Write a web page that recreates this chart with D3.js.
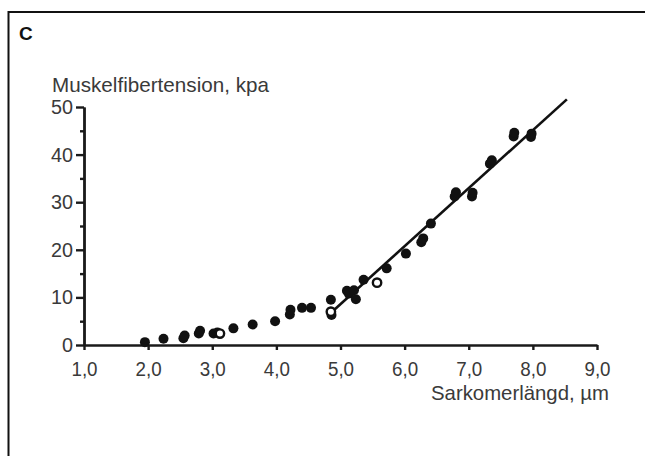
<!DOCTYPE html>
<html>
<head>
<meta charset="utf-8">
<script src="https://cdn.jsdelivr.net/npm/d3@7"></script>
<style>
    body { margin: 0; background: #fff; }
    svg { display: block; }
    .axis path, .axis line { stroke: #1a1a1a; stroke-width: 2.4; }
    .axis text { fill: #3a3a3a; font-family: 'Liberation Sans', Arial, sans-serif; font-size: 20px; }
    .title { fill: #3a3a3a; font-family: 'Liberation Sans', Arial, sans-serif; font-size: 21px; }
</style>
</head>
<body>
<script>
    // sarcomere length (um) and tension (kPa), filled symbols
    var filledX = [1.95, 2.24, 2.55, 2.57, 2.79, 2.81, 3.02, 3.08, 3.33, 3.63, 3.98,
        4.21, 4.22, 4.40, 4.54, 4.85, 4.86, 5.10, 5.13, 5.21, 5.24, 5.36, 5.72,
        6.02, 6.26, 6.29, 6.41, 6.78, 6.80, 7.05, 7.06, 7.33, 7.36, 7.70, 7.71, 7.97, 7.98];
    var filledY = [0.6, 1.3, 1.4, 2.0, 2.4, 3.0, 2.4, 2.6, 3.5, 4.3, 5.0,
        6.4, 7.4, 7.8, 7.8, 9.5, 6.3, 11.4, 10.8, 11.5, 9.6, 13.7, 16.1,
        19.2, 21.6, 22.4, 25.5, 31.2, 32.1, 31.2, 32.0, 38.1, 38.8, 43.8, 44.6, 43.7, 44.4];

    // open symbols
    var openX = [3.12, 4.85, 5.57];
    var openY = [2.4, 7.0, 13.1];

    // regression line end points
    var lineX = [4.83, 8.53];
    var lineY = [6.5, 51.6];

    var xTicks = [1, 2, 3, 4, 5, 6, 7, 8, 9];
    var yTicks = [0, 10, 20, 30, 40, 50];
    var yMinor = [5, 15, 25, 35, 45];

    var width = 645,
        height = 456;

    var svg = d3.select('body')
        .append('svg')
        .attr('width', width)
        .attr('height', height);

    // frame
    svg.append('rect')
        .attr('x', 8.5)
        .attr('y', 12)
        .attr('width', 700)
        .attr('height', 500)
        .attr('fill', 'none')
        .attr('stroke', '#111')
        .attr('stroke-width', 2);

    svg.append('text')
        .attr('x', 19)
        .attr('y', 40)
        .attr('font-family', 'Liberation Sans, Arial, sans-serif')
        .attr('font-weight', 'bold')
        .attr('font-size', 19)
        .attr('fill', '#111')
        .text('C');

    var x = d3.scaleLinear().domain([1, 9]).range([84, 597]);
    var y = d3.scaleLinear().domain([0, 50]).range([345, 107]);

    var fmt = function(d) { return d.toFixed(1).replace('.', ','); };

    // squeeze tick labels to the narrow typeface of the original
    function narrow(g, perChar) {
        g.selectAll('.tick text')
            .attr('textLength', function() { return this.textContent.length * perChar; })
            .attr('lengthAdjust', 'spacingAndGlyphs');
    }

    // minor y ticks
    svg.append('g')
        .attr('class', 'axis')
        .attr('transform', 'translate(84,0)')
        .call(d3.axisLeft(y).tickValues(yMinor).tickSize(4).tickSizeOuter(0).tickFormat(''));

    svg.append('g')
        .attr('class', 'axis')
        .attr('transform', 'translate(84,0)')
        .call(d3.axisLeft(y).tickValues(yTicks).tickSize(8).tickSizeOuter(0).tickPadding(3))
        .call(narrow, 11);

    svg.append('g')
        .attr('class', 'axis')
        .attr('transform', 'translate(0,345)')
        .call(d3.axisBottom(x).tickValues(xTicks).tickSize(5).tickSizeOuter(0).tickPadding(12).tickFormat(fmt))
        .call(narrow, 8.7);

    // axis titles
    svg.append('text')
        .attr('class', 'title')
        .attr('x', 52)
        .attr('y', 92)
        .attr('textLength', 217)
        .attr('lengthAdjust', 'spacingAndGlyphs')
        .text('Muskelfibertension, kpa');

    svg.append('text')
        .attr('class', 'title')
        .attr('x', 431)
        .attr('y', 400)
        .attr('textLength', 178)
        .attr('lengthAdjust', 'spacingAndGlyphs')
        .text('Sarkomerlängd, µm');

    // fitted line
    var line = d3.line()
        .x(function(d) { return x(d[0]); })
        .y(function(d) { return y(d[1]); });

    svg.append('path')
        .datum(d3.zip(lineX, lineY))
        .attr('d', line)
        .attr('fill', 'none')
        .attr('stroke', '#111')
        .attr('stroke-width', 2.6);

    svg.selectAll('.filled')
        .data(d3.zip(filledX, filledY))
        .enter()
        .append('circle')
        .attr('class', 'filled')
        .attr('cx', function(d) { return x(d[0]); })
        .attr('cy', function(d) { return y(d[1]); })
        .attr('r', 5)
        .attr('fill', '#111');

    svg.selectAll('.open')
        .data(d3.zip(openX, openY))
        .enter()
        .append('circle')
        .attr('class', 'open')
        .attr('cx', function(d) { return x(d[0]); })
        .attr('cy', function(d) { return y(d[1]); })
        .attr('r', 4.2)
        .attr('fill', '#fff')
        .attr('stroke', '#111')
        .attr('stroke-width', 2.4);
</script>
</body>
</html>
